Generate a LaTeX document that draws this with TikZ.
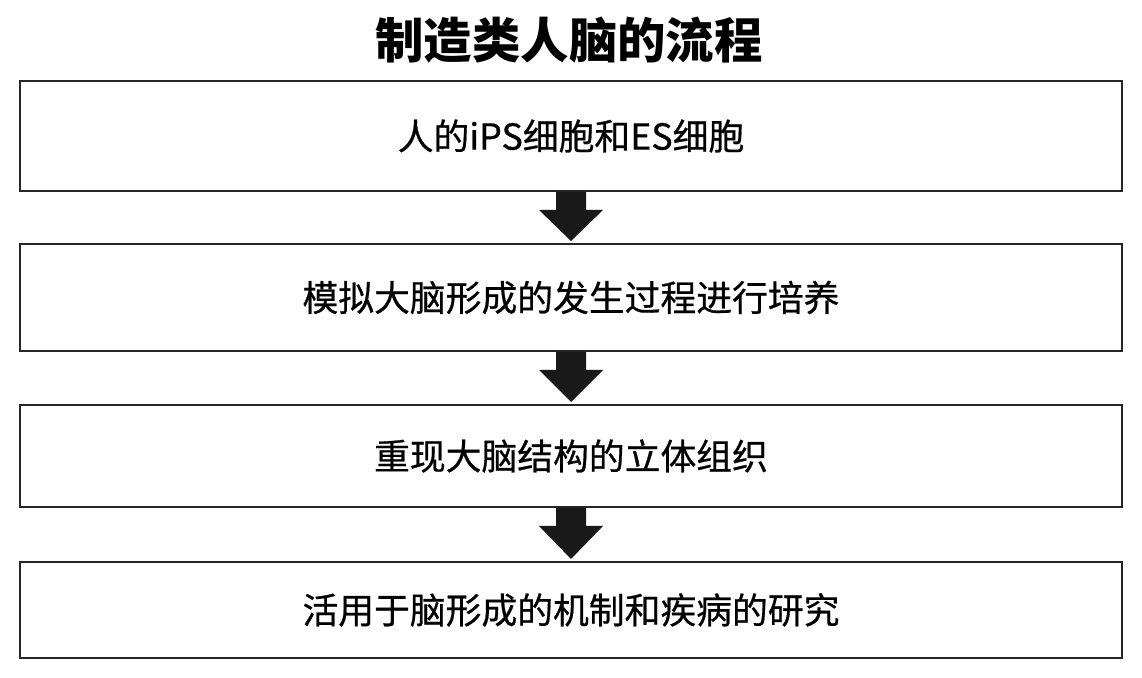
\documentclass[tikz,border=0pt]{standalone}
\usepackage{fontspec}
\newfontfamily\cjk{Noto Sans CJK SC}
\newfontfamily\cjkm[FakeBold=0.6]{Noto Sans CJK SC}
\usetikzlibrary{calc}
\begin{document}
\begin{tikzpicture}[x=0.5pt,y=-0.5pt,
  stepbox/.style={draw=black!85,line width=1pt,fill=white,minimum width=551pt,inner sep=0pt,
    font=\cjkm\fontsize{17.9pt}{22pt}\selectfont,text=black},
  bigarrow/.style={fill=black!90!white}]
\useasboundingbox (0,0) rectangle (1142,678);
\node[font=\cjk\bfseries\fontsize{24.2pt}{28pt}\selectfont] (title) at (569,40) {制造类人脑的流程};
\node[stepbox,minimum height=55pt] (b1) at (571,136) {人的iPS细胞和ES细胞};
\node[stepbox,minimum height=53.5pt] (b2) at (571,297.5) {模拟大脑形成的发生过程进行培养};
\node[stepbox,minimum height=51pt] (b3) at (571,456) {重现大脑结构的立体组织};
\node[stepbox,minimum height=48pt] (b4) at (571,610) {活用于脑形成的机制和疾病的研究};
\foreach \a/\b in {b1/b2,b2/b3,b3/b4}{
  \fill[bigarrow] ($(\a.south)+(-15,0)$) -- ($(\a.south)+(15,0)$) -- ($(\a.south)+(15,18)$)
    -- ($(\a.south)+(32,18)$) -- ($(\b.north)+(0,-2)$) -- ($(\a.south)+(-32,18)$)
    -- ($(\a.south)+(-15,18)$) -- cycle;
}
\end{tikzpicture}
\end{document}
